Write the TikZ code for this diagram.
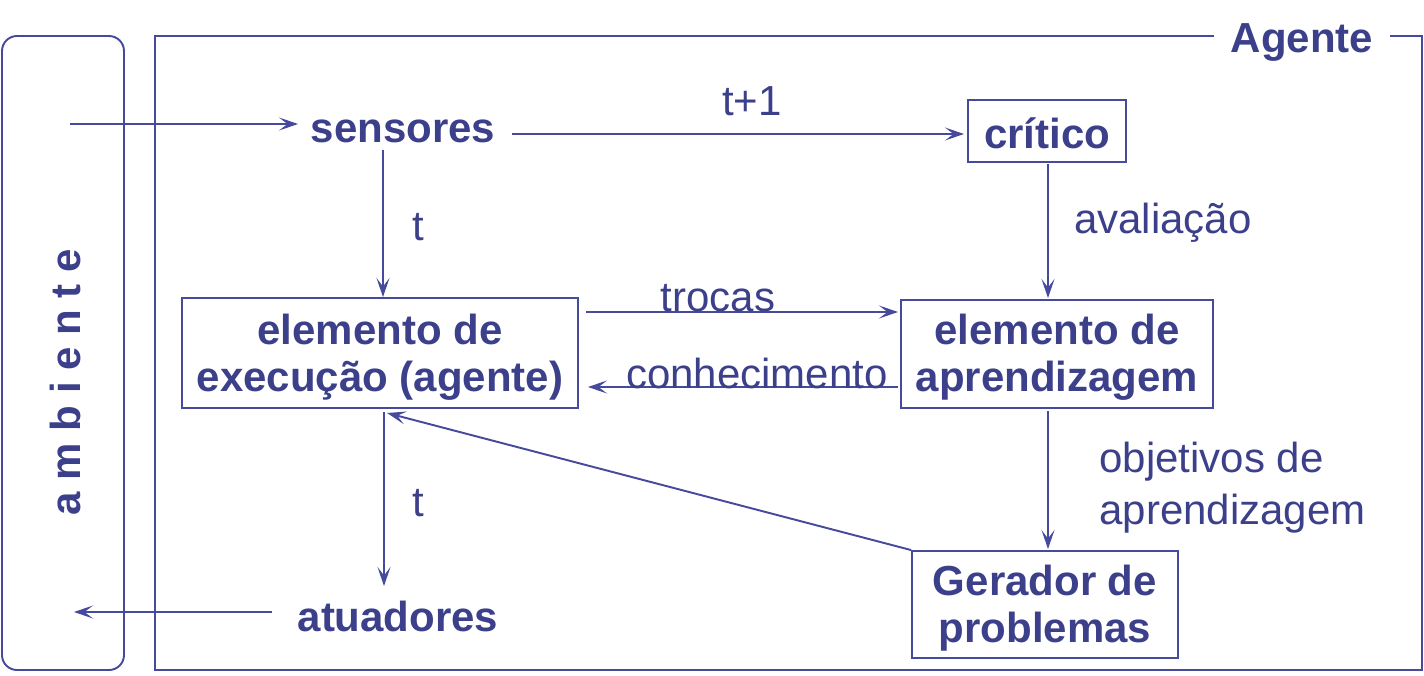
\documentclass[tikz,border=0pt]{standalone}
\usepackage{fontspec}
\setmainfont{Liberation Sans}
\usetikzlibrary{arrows.meta}
\definecolor{ink}{RGB}{60,64,138}
\definecolor{wire}{RGB}{70,74,156}
\tikzset{
  txt/.style={text=ink, font=\fontsize{23.9}{26.6}\selectfont, inner sep=0pt},
  btxt/.style={txt, font=\fontsize{23.9}{26.6}\selectfont\bfseries},
  box/.style={draw=wire, line width=1.1pt, btxt, align=center},
  boxtext/.style={btxt, align=center},
  conn/.style={draw=wire, line width=1.1pt, -{Stealth[length=0.38cm,width=0.26cm,inset=0.17cm]}},
}
\begin{document}
\begin{tikzpicture}[x=0.02cm,y=-0.02cm]
\useasboundingbox (0,0) rectangle (1424,676);
% frames
\draw[wire, line width=1.1pt, rounded corners=0.3cm] (2,36) rectangle (124,670);
\draw[wire, line width=1.1pt] (155,36) rectangle (1422,670);
\node[btxt, fill=white, inner xsep=0.34cm, inner ysep=4pt] (agente) at (1302,43) {Agente};
\node[btxt, rotate=90] (amb) at (65,382) {a m b i e n t e};
% nodes
\node[btxt] (sens) at (403,131) {sensores};
\node[btxt] (atu) at (398,616) {atuadores};
\node[box, minimum width=3.16cm, minimum height=1.24cm] (crit) at (1047,131) {};
\node[boxtext] (critT) at (1047,133) {crítico};
\node[box, minimum width=7.92cm, minimum height=2.2cm] (exec) at (380,353) {};
\node[boxtext] (execT) at (380,357) {elemento de\\execução (agente)};
\node[box, minimum width=6.24cm, minimum height=2.16cm] (learn) at (1057,354) {};
\node[boxtext] (learnT) at (1057,357) {elemento de\\aprendizagem};
\node[box, minimum width=5.32cm, minimum height=2.14cm] (ger) at (1045,604.5) {};
\node[boxtext] (gerT) at (1045,608) {Gerador de\\problemas};
% coordinates
\coordinate (inS) at (70,124);
\coordinate (inE) at (298,124);
\coordinate (outS) at (272,612);
\coordinate (outE) at (74,612);
\coordinate (s1) at (512,134);
\coordinate (c1) at (964,134);
\coordinate (s2) at (383,150);
\coordinate (e2) at (383,297);
\coordinate (c3) at (1048,164);
\coordinate (l3) at (1048,298);
\coordinate (e4) at (384,412);
\coordinate (a4) at (384,586);
\coordinate (l5) at (1048,411);
\coordinate (g5) at (1048,549);
\coordinate (eT1) at (586,312);
\coordinate (lT1) at (898,312);
\coordinate (lT2) at (898,387);
\coordinate (eT2) at (588,387);
\coordinate (ex) at (387,413);
% connectors
\draw[conn] (inS) -- (inE);
\draw[conn] (outS) -- (outE);
\draw[conn] (s1) -- (c1);
\draw[conn] (s2) -- (e2);
\draw[conn] (c3) -- (l3);
\draw[conn] (e4) -- (a4);
\draw[conn] (l5) -- (g5);
\draw[conn] (eT1) -- (lT1);
\draw[conn] (lT2) -- (eT2);
\draw[conn] (ger.north west) -- (ex);
% labels
\node[txt] (tp1) at (752,101) {t+1};
\node[txt] (t1) at (418,227) {t};
\node[txt] (t2) at (418,503) {t};
\node[txt] (aval) at (1163,223) {avaliação};
\node[txt] (troc) at (718,298) {trocas};
\node[txt] (conh) at (757,373) {conhecimento};
\node[txt, align=left, anchor=west] (obj) at (1099,488) {objetivos de\\[3pt]aprendizagem};
\end{tikzpicture}
\end{document}
